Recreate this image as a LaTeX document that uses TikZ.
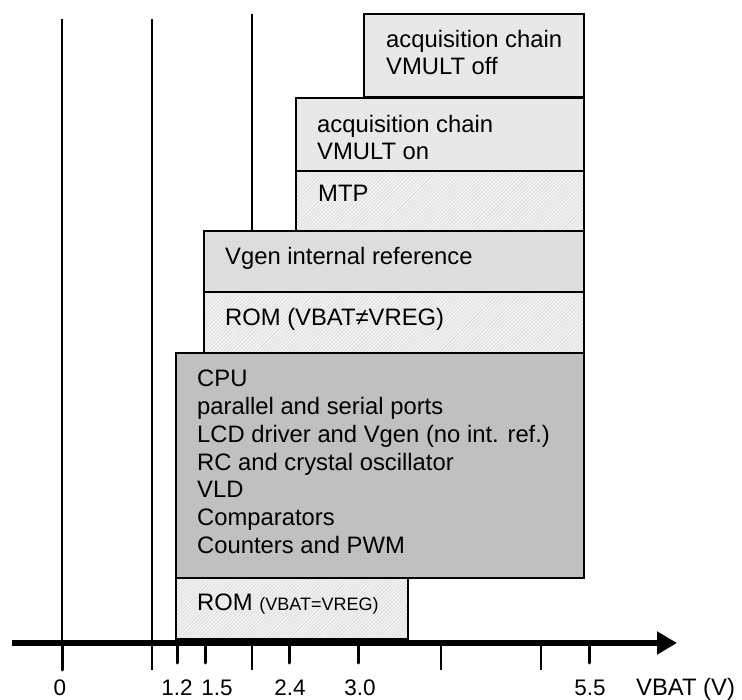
\documentclass[tikz,border=0pt]{standalone}
\usepackage{fontspec}
\setmainfont{Liberation Sans}
\usetikzlibrary{arrows.meta,patterns.meta}
\definecolor{chainGray}{RGB}{232,232,232}
\definecolor{refGray}{RGB}{221,221,221}
\definecolor{coreGray}{RGB}{192,192,192}
\definecolor{hatchBase}{RGB}{242,242,242}
\definecolor{hatchLine}{RGB}{212,212,212}

\tikzset{
  blockbox/.style={draw=black,line width=1.2pt,anchor=north west,inner sep=0pt,outer sep=0pt},
  hatchbox/.style={blockbox,preaction={fill=hatchBase},pattern={Lines[angle=45,distance=2.6pt,line width=0.5pt]},pattern color=hatchLine},
  itemtext/.style={anchor=base west,inner sep=0pt,font=\fontsize{23.8}{27.5}\selectfont},
  ticklabel/.style={anchor=base,inner sep=0pt,font=\fontsize{22.5}{26}\selectfont},
}

\begin{document}
\begin{tikzpicture}[x=1pt,y=-1pt]
\path[use as bounding box] (0,0) rectangle (742,700);

% voltage guide lines
\draw[line width=1.2pt] (62,19) -- (62,643);
\draw[line width=1.2pt] (152,19) -- (152,670);
\draw[line width=1.2pt] (252,14) -- (252,670);

% supply ranges
\node[blockbox,fill=chainGray,minimum width=220pt,minimum height=83pt] (acqoff) at (364,14) {};
\node[itemtext] (acqoff-a) at ([xshift=22pt,yshift=-34pt]acqoff.north west) {acquisition chain};
\node[itemtext] (acqoff-b) at ([xshift=22pt,yshift=-61pt]acqoff.north west) {VMULT off};

\node[blockbox,fill=chainGray,minimum width=288pt,minimum height=73pt] (acqon) at (296,98) {};
\node[itemtext] (acqon-a) at ([xshift=21pt,yshift=-35pt]acqon.north west) {acquisition chain};
\node[itemtext] (acqon-b) at ([xshift=21pt,yshift=-62pt]acqon.north west) {VMULT on};

\node[hatchbox,minimum width=288pt,minimum height=60pt] (mtp) at (296,171) {};
\node[itemtext] (mtp-a) at ([xshift=22pt,yshift=-31pt]mtp.north west) {MTP};

\node[blockbox,fill=refGray,minimum width=380pt,minimum height=61pt] (vgen) at (204,231) {};
\node[itemtext] (vgen-a) at ([xshift=21pt,yshift=-34pt]vgen.north west) {Vgen internal reference};

\node[hatchbox,minimum width=380pt,minimum height=61pt] (romne) at (204,292) {};
\node[itemtext] (romne-a) at ([xshift=21pt,yshift=-34pt]romne.north west) {ROM (VBAT≠VREG)};

\node[blockbox,fill=coreGray,minimum width=408pt,minimum height=225pt] (cpu) at (176,353) {};
\foreach \t [count=\i from 0] in {CPU,parallel and serial ports,LCD driver and Vgen (no int. ref.),RC and crystal oscillator,VLD,Comparators,Counters and PWM}
  \node[itemtext] (cpu-\i) at ([xshift=21pt,yshift=-34pt-27.7pt*\i]cpu.north west) {\t};

\node[hatchbox,minimum width=232pt,minimum height=61pt] (romeq) at (176,578) {};
\node[itemtext] (romeq-a) at ([xshift=21pt,yshift=-32pt]romeq.north west) {ROM {\fontsize{18}{20}\selectfont (VBAT=VREG)}};

% VBAT axis
\coordinate (axisstart) at (12,643);
\coordinate (axisend) at (677,643);
\draw[line width=6pt,-{Triangle[length=20pt,width=22pt]}] (axisstart) -- (axisend);
\foreach \x in {441,541}
  \draw[line width=1.2pt] (\x,643) -- (\x,670);
\draw[line width=3pt,line cap=round] (62,643) -- (62,670);
\foreach \x in {177,205,289,358,589}
  \draw[line width=3pt,line cap=round] (\x,643) -- (\x,663);
\foreach \x/\v [count=\i] in {60/0,177/1.2,217/1.5,290/2.4,360/3.0,590/5.5}
  \node[ticklabel] (tick\i) at (\x,695) {\v};
\node[anchor=base west,inner sep=0pt,font=\fontsize{23.8}{27.5}\selectfont] (axislabel) at (636,695) {VBAT (V)};
\end{tikzpicture}
\end{document}
